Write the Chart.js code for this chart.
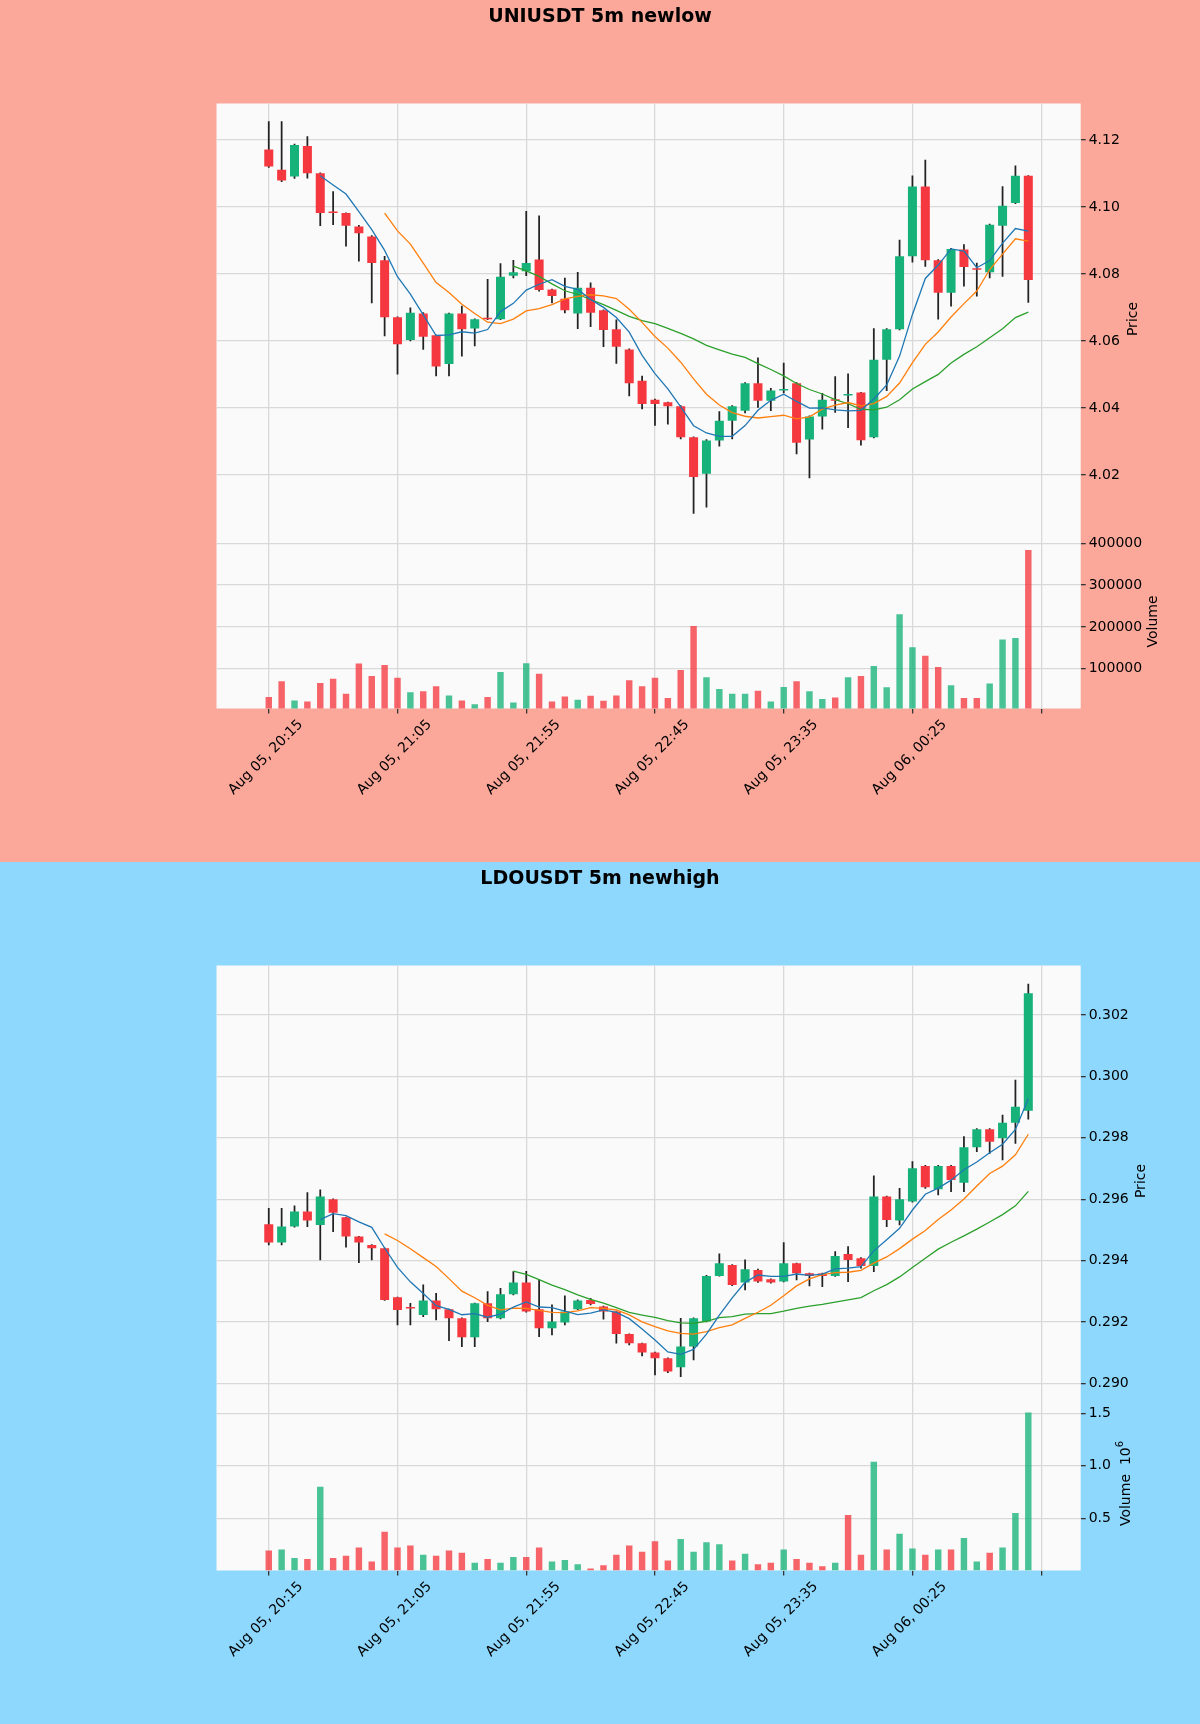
<!DOCTYPE html>
<html>
<head>
<meta charset="utf-8">
<title>UNIUSDT / LDOUSDT 5m</title>
<script src="https://cdn.jsdelivr.net/npm/chart.js@4.4.1/dist/chart.umd.min.js"></script>
<style>
  html, body { margin: 0; padding: 0; }
  .panel { position: relative; width: 1200px; height: 862px; }
  #uniPanel { background: #fba89b; }
  #ldoPanel { background: #8ed7fd; }
  canvas { display: block; }
</style>
</head>
<body>
<div class="panel" id="uniPanel"><canvas id="uniChart" width="1200" height="862"></canvas></div>
<div class="panel" id="ldoPanel"><canvas id="ldoChart" width="1200" height="862"></canvas></div>
<script>
// ---- datos (60 velas de 5m) ----
const xTickValues = [0, 10, 20, 30, 40, 50, 60];
const xTickLabels = ['Aug 05, 20:15', 'Aug 05, 21:05', 'Aug 05, 21:55', 'Aug 05, 22:45', 'Aug 05, 23:35', 'Aug 06, 00:25'];
const maPeriods = [5, 10, 20];

// UNIUSDT
const uniOpen = [4.1172, 4.1111, 4.1091, 4.1182, 4.1101, 4.0985, 4.0982, 4.0942, 4.0912, 4.0841,
  4.0671, 4.0603, 4.0682, 4.0617, 4.0531, 4.0682, 4.0637, 4.0667, 4.0665, 4.0795,
  4.0808, 4.0843, 4.0754, 4.0726, 4.0682, 4.0759, 4.0692, 4.0635, 4.0575, 4.0481,
  4.0425, 4.0417, 4.0405, 4.0313, 4.0204, 4.0303, 4.0362, 4.0392, 4.0474, 4.0422,
  4.0452, 4.0474, 4.0306, 4.0375, 4.0424, 4.0437, 4.0446, 4.0313, 4.0544, 4.0635,
  4.0853, 4.1061, 4.0841, 4.0744, 4.0873, 4.0815, 4.0805, 4.0944, 4.1012, 4.1093];
const uniHigh = [4.1255, 4.1255, 4.1188, 4.1210, 4.1102, 4.1046, 4.0983, 4.0945, 4.0915, 4.0853,
  4.0672, 4.0699, 4.0685, 4.0618, 4.0683, 4.0704, 4.0666, 4.0784, 4.0831, 4.0841,
  4.0987, 4.0974, 4.0755, 4.0788, 4.0805, 4.0774, 4.0693, 4.0663, 4.0577, 4.0495,
  4.0427, 4.0418, 4.0407, 4.0314, 4.0306, 4.0389, 4.0407, 4.0476, 4.0550, 4.0459,
  4.0534, 4.0476, 4.0377, 4.0444, 4.0494, 4.0502, 4.0447, 4.0637, 4.0637, 4.0901,
  4.1093, 4.1140, 4.0843, 4.0877, 4.0888, 4.0833, 4.0949, 4.1061, 4.1123, 4.1094];
const uniLow = [4.1118, 4.1076, 4.1085, 4.1086, 4.0944, 4.0947, 4.0883, 4.0838, 4.0714, 4.0615,
  4.0501, 4.0600, 4.0575, 4.0496, 4.0496, 4.0555, 4.0585, 4.0664, 4.0664, 4.0788,
  4.0795, 4.0749, 4.0714, 4.0684, 4.0637, 4.0643, 4.0583, 4.0533, 4.0436, 4.0397,
  4.0348, 4.0352, 4.0308, 4.0085, 4.0104, 4.0286, 4.0308, 4.0385, 4.0402, 4.0392,
  4.0445, 4.0263, 4.0191, 4.0337, 4.0387, 4.0341, 4.0289, 4.0311, 4.0452, 4.0633,
  4.0835, 4.0823, 4.0665, 4.0704, 4.0764, 4.0734, 4.0788, 4.0793, 4.1010, 4.0715];
const uniClose = [4.1121, 4.1079, 4.1185, 4.1101, 4.0982, 4.0982, 4.0944, 4.0922, 4.0833, 4.0671,
  4.0590, 4.0684, 4.0613, 4.0524, 4.0682, 4.0635, 4.0665, 4.0665, 4.0792, 4.0805,
  4.0833, 4.0752, 4.0734, 4.0692, 4.0759, 4.0684, 4.0633, 4.0583, 4.0474, 4.0412,
  4.0412, 4.0405, 4.0313, 4.0194, 4.0303, 4.0362, 4.0405, 4.0474, 4.0422, 4.0452,
  4.0454, 4.0296, 4.0375, 4.0425, 4.0422, 4.0439, 4.0304, 4.0544, 4.0635, 4.0853,
  4.1061, 4.0841, 4.0744, 4.0875, 4.0821, 4.0813, 4.0947, 4.1004, 4.1093, 4.0782];
const uniVolume = [32300, 70300, 24300, 21800, 66300, 76000, 40400, 112400, 82500, 109100,
  78400, 43700, 46100, 58200, 36400, 24300, 15400, 32300, 92200, 19400,
  113200, 88100, 21800, 34000, 25900, 35600, 23400, 36400, 72800, 58200,
  78400, 29900, 97000, 202100, 80000, 51700, 40400, 40400, 47700, 21800,
  56600, 70300, 46100, 27500, 31500, 80000, 82500, 106700, 55800, 230400,
  151200, 131000, 104300, 60600, 29900, 29900, 64700, 169800, 173800, 384000];
const uniPriceTicks = [4.02, 4.04, 4.06, 4.08, 4.10, 4.12];
const uniVolumeTicks = [100000, 200000, 300000, 400000];

// LDOUSDT
const ldoOpen = [0.295181, 0.294584, 0.295105, 0.295594, 0.295160, 0.295996, 0.295409, 0.294780, 0.294508, 0.294400,
  0.292804, 0.292455, 0.292228, 0.292695, 0.292413, 0.292120, 0.291500, 0.292608, 0.292120, 0.292901,
  0.293281, 0.292413, 0.291794, 0.291978, 0.292413, 0.292717, 0.292500, 0.292337, 0.291609, 0.291305,
  0.291001, 0.290817, 0.290523, 0.291197, 0.292011, 0.293498, 0.293857, 0.293281, 0.293694, 0.293390,
  0.293314, 0.293911, 0.293585, 0.293580, 0.293498, 0.294215, 0.294074, 0.293824, 0.296083, 0.295301,
  0.295920, 0.297082, 0.296321, 0.297082, 0.296538, 0.297690, 0.298276, 0.297983, 0.298493, 0.298884];
const ldoHigh = [0.295703, 0.295703, 0.295779, 0.296213, 0.296300, 0.296010, 0.295420, 0.294790, 0.294520, 0.294410,
  0.292810, 0.292608, 0.293205, 0.292934, 0.292420, 0.292130, 0.292615, 0.292988, 0.293097, 0.293639,
  0.293650, 0.293368, 0.292554, 0.292847, 0.292720, 0.292770, 0.292520, 0.292340, 0.291615, 0.291310,
  0.291020, 0.290830, 0.292119, 0.292130, 0.293520, 0.294215, 0.293870, 0.294020, 0.293720, 0.293400,
  0.294584, 0.293920, 0.293590, 0.293590, 0.294291, 0.294454, 0.294100, 0.296756, 0.296100, 0.296354,
  0.297223, 0.297100, 0.297100, 0.297100, 0.298037, 0.298300, 0.298300, 0.298743, 0.299883, 0.303010];
const ldoLow = [0.294508, 0.294508, 0.295090, 0.295105, 0.294020, 0.294943, 0.294432, 0.293933, 0.294020, 0.292700,
  0.291902, 0.291902, 0.292170, 0.292065, 0.291392, 0.291197, 0.291197, 0.292011, 0.292100, 0.292880,
  0.292320, 0.291522, 0.291577, 0.291900, 0.292400, 0.292550, 0.292087, 0.291305, 0.291250, 0.290893,
  0.290274, 0.290350, 0.290220, 0.290762, 0.292000, 0.293490, 0.293180, 0.293042, 0.293290, 0.293260,
  0.293300, 0.293368, 0.293173, 0.293150, 0.293480, 0.293314, 0.293750, 0.293639, 0.295105, 0.295160,
  0.295900, 0.296350, 0.296137, 0.296245, 0.296245, 0.297548, 0.297494, 0.297277, 0.297820, 0.298602];
const ldoClose = [0.294584, 0.295105, 0.295594, 0.295301, 0.296083, 0.295561, 0.294780, 0.294584, 0.294400, 0.292717,
  0.292391, 0.292440, 0.292695, 0.292413, 0.292120, 0.291500, 0.292608, 0.292120, 0.292901, 0.293281,
  0.292337, 0.291794, 0.292011, 0.292337, 0.292695, 0.292586, 0.292337, 0.291609, 0.291305, 0.291001,
  0.290817, 0.290382, 0.291197, 0.292119, 0.293498, 0.293911, 0.293205, 0.293716, 0.293314, 0.293281,
  0.293911, 0.293585, 0.293498, 0.293500, 0.294150, 0.294020, 0.293824, 0.296083, 0.295323, 0.295996,
  0.297005, 0.296387, 0.297082, 0.296625, 0.297690, 0.298276, 0.297874, 0.298493, 0.299014, 0.302706];
const ldoVolume = [190000, 200000, 120000, 110000, 800000, 120000, 140000, 220000, 85000, 370000,
  220000, 240000, 150000, 140000, 190000, 170000, 75000, 110000, 75000, 130000,
  130000, 220000, 85000, 100000, 60000, 20000, 50000, 150000, 240000, 180000,
  280000, 95000, 300000, 180000, 270000, 250000, 95000, 160000, 60000, 75000,
  200000, 110000, 75000, 40000, 75000, 530000, 150000, 1040000, 200000, 350000,
  210000, 150000, 200000, 200000, 310000, 85000, 170000, 220000, 550000, 1510000];
const ldoPriceTicks = [0.290, 0.292, 0.294, 0.296, 0.298, 0.300, 0.302];
const ldoVolumeTicks = [500000, 1000000, 1500000];

// ---- estilo ----
const FONT = 'DejaVu Sans';
Chart.defaults.font.family = FONT;
Chart.defaults.font.size = 14;
Chart.defaults.color = '#000';

const UP = '#17b27a';
const DOWN = '#f5383f';
const UP_VOL = 'rgba(23, 178, 122, 0.78)';
const DOWN_VOL = 'rgba(245, 56, 63, 0.78)';
const WICK = '#222';
const GRID = '#d9d9d9';
const MA_COLORS = ['#1f77b4', '#ff7f0e', '#2ca02c'];

function movingAverage(close, period) {
    const out = [];
    for (let i = period - 1; i < close.length; i++) {
        let sum = 0;
        for (let j = i - period + 1; j <= i; j++) sum += close[j];
        out.push({ x: i, y: sum / period });
    }
    return out;
}

// fondo claro del area de trazado
const plotBackground = {
    id: 'plotBackground',
    beforeDraw(chart) {
        const { ctx, chartArea: a } = chart;
        ctx.save();
        ctx.fillStyle = '#fafafa';
        ctx.fillRect(a.left, a.top, a.right - a.left, a.bottom - a.top);
        ctx.restore();
    }
};

// titulos de eje a la derecha, leidos de abajo hacia arriba
function sideTitles(items) {
    return {
        id: 'sideTitles',
        afterDraw(chart) {
            const ctx = chart.ctx;
            items.forEach(item => {
                const scale = chart.scales[item.axis];
                const cy = (scale.top + scale.bottom) / 2;
                const main = `14px "${FONT}"`;
                const small = `10px "${FONT}"`;
                ctx.save();
                ctx.translate(item.x, cy);
                ctx.rotate(-Math.PI / 2);
                ctx.fillStyle = '#000';
                ctx.textBaseline = 'middle';
                ctx.textAlign = 'left';
                ctx.font = main;
                const w1 = ctx.measureText(item.text).width;
                let w2 = 0;
                if (item.sup) {
                    ctx.font = small;
                    w2 = ctx.measureText(item.sup).width;
                }
                const x0 = -(w1 + w2) / 2;
                ctx.font = main;
                ctx.fillText(item.text, x0, 0);
                if (item.sup) {
                    ctx.font = small;
                    ctx.fillText(item.sup, x0 + w1, -6);
                }
                ctx.restore();
            });
        }
    };
}

function fixedTicks(values) {
    return (axis) => { axis.ticks = values.map(v => ({ value: v })); };
}

function yScale(weight, min, max, ticks, fmt) {
    return {
        type: 'linear',
        position: 'right',
        stack: 'panel',
        stackWeight: weight,
        min: min,
        max: max,
        afterBuildTicks: fixedTicks(ticks),
        afterFit: (axis) => { axis.width = 119.3; },
        border: { display: false },
        grid: { color: GRID, lineWidth: 1.3, tickLength: 5, tickColor: '#333' },
        ticks: { padding: 3, color: '#000', callback: fmt }
    };
}

function candleChart(canvasId, s) {
    const isUp = s.close.map((c, i) => c >= s.open[i]);
    const bodies = s.open.map((o, i) => ({ x: i, y: [o, s.close[i]] }));
    const wicks = s.low.map((l, i) => ({ x: i, y: [l, s.high[i]] }));
    const vols = s.volume.map((v, i) => ({ x: i, y: v }));

    const lines = maPeriods.map((p, k) => ({
        type: 'line',
        label: 'MA' + p,
        data: movingAverage(s.close, p),
        yAxisID: 'y',
        borderColor: MA_COLORS[k],
        borderWidth: 1.3,
        pointRadius: 0,
        fill: false,
        tension: 0,
        order: 1
    }));

    return new Chart(document.getElementById(canvasId), {
        type: 'bar',
        data: {
            datasets: [
                ...lines,
                {
                    label: 'body', data: bodies, yAxisID: 'y',
                    backgroundColor: isUp.map(u => u ? UP : DOWN),
                    borderWidth: 0, barPercentage: 0.7, categoryPercentage: 1,
                    grouped: false, minBarLength: 1.5, order: 3
                },
                {
                    label: 'wick', data: wicks, yAxisID: 'y',
                    backgroundColor: WICK, barThickness: 1.1,
                    grouped: false, order: 4
                },
                {
                    label: 'volume', data: vols, yAxisID: 'yVol',
                    backgroundColor: isUp.map(u => u ? UP_VOL : DOWN_VOL),
                    barPercentage: 0.5, categoryPercentage: 1,
                    grouped: false, order: 5
                }
            ]
        },
        options: {
            responsive: false,
            animation: false,
            layout: { padding: 0 },
            plugins: {
                legend: { display: false },
                tooltip: { enabled: false },
                title: {
                    display: true,
                    text: s.title,
                    color: '#000',
                    font: { size: 19, weight: 'bold' },
                    padding: { top: 6, bottom: 74.7 }
                }
            },
            scales: {
                x: {
                    type: 'linear',
                    min: -4.06,
                    max: 63.07,
                    offset: false,
                    afterBuildTicks: fixedTicks(xTickValues),
                    afterFit: (axis) => { axis.height = 153.5; },
                    border: { display: false },
                    grid: { offset: false, color: GRID, lineWidth: 1.3, tickLength: 5, tickColor: '#333' },
                    ticks: {
                        autoSkip: false,
                        minRotation: 45,
                        maxRotation: 45,
                        labelOffset: 32,
                        padding: 3,
                        color: '#000',
                        callback: (v) => xTickLabels[v / 10] || ''
                    }
                },
                // eje vacio a la izquierda para reservar el margen
                pad: {
                    type: 'linear',
                    position: 'left',
                    afterFit: (axis) => { axis.width = 216.5; },
                    border: { display: false },
                    grid: { display: false },
                    ticks: { display: false }
                },
                y: yScale(431, s.priceMin, s.priceMax, s.priceTicks, s.priceFmt),
                yVol: yScale(174, s.volMin, s.volMax, s.volTicks, s.volFmt)
            }
        },
        plugins: [plotBackground, sideTitles(s.sideTitles)]
    });
}

document.addEventListener('DOMContentLoaded', function() {
    candleChart('uniChart', {
        title: 'UNIUSDT 5m newlow',
        open: uniOpen, high: uniHigh, low: uniLow, close: uniClose, volume: uniVolume,
        priceMin: 4.00224, priceMax: 4.1309, priceTicks: uniPriceTicks,
        priceFmt: (v) => v.toFixed(2),
        volMin: 5090, volMax: 421000, volTicks: uniVolumeTicks,
        volFmt: (v) => String(Math.round(v)),
        sideTitles: [
            { axis: 'y', text: 'Price', x: 1133 },
            { axis: 'yVol', text: 'Volume', x: 1153 }
        ]
    });

    candleChart('ldoChart', {
        title: 'LDOUSDT 5m newhigh',
        open: ldoOpen, high: ldoHigh, low: ldoLow, close: ldoClose, volume: ldoVolume,
        priceMin: 0.28957, priceMax: 0.303613, priceTicks: ldoPriceTicks,
        priceFmt: (v) => v.toFixed(3),
        volMin: 0, volMax: 1662700, volTicks: ldoVolumeTicks,
        volFmt: (v) => (v / 1e6).toFixed(1),
        sideTitles: [
            { axis: 'y', text: 'Price', x: 1141 },
            { axis: 'yVol', text: 'Volume  10', sup: '6', x: 1126 }
        ]
    });
});
</script>
</body>
</html>
